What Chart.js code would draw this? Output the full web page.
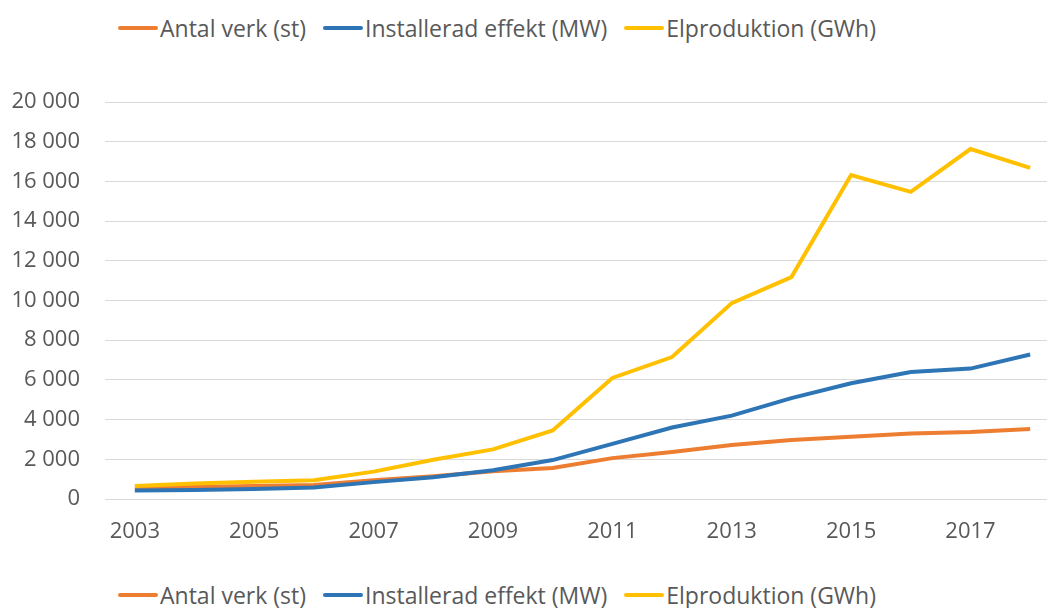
<!DOCTYPE html>
<html>
<head>
<meta charset="utf-8">
<script src="https://cdn.jsdelivr.net/npm/chart.js@4"></script>
<style>
  html, body { margin: 0; padding: 0; background: #fff; overflow: hidden; }
  #wrap { position: relative; width: 1047px; height: 608px; overflow: hidden; }
  #chart { position: absolute; left: 0; top: 0; }
  .legend { position: absolute; left: 118px; display: flex; align-items: center;
            font-family: "Open Sans", sans-serif; font-size: 23px; color: #595959; white-space: nowrap; }
  .legend .item { display: flex; align-items: center; margin-right: 17px; }
  .legend .sw { width: 40px; height: 4px; border-radius: 2px; margin-right: 2px; }
</style>
</head>
<body>
<div id="wrap">
  <div class="legend" id="legendTop" style="top:12px"></div>
  <canvas id="chart" width="1060" height="560"></canvas>
  <div class="legend" id="legendBottom" style="top:579px"></div>
</div>
<script>
const years = ['2003','2004','2005','2006','2007','2008','2009','2010','2011','2012','2013','2014','2015','2016','2017','2018'];
const seriesNames = ['Antal verk (st)', 'Installerad effekt (MW)', 'Elproduktion (GWh)'];
const antalVerk = [550, 600, 650, 700, 950, 1150, 1400, 1560, 2060, 2370, 2720, 2970, 3130, 3300, 3380, 3530];
const installeradEffekt = [430, 450, 500, 580, 850, 1100, 1450, 1960, 2780, 3600, 4200, 5080, 5830, 6400, 6570, 7280];
const elproduktion = [650, 780, 870, 950, 1380, 1980, 2500, 3450, 6100, 7150, 9870, 11180, 16320, 15470, 17630, 16680];
const colors = ['#ED7D31', '#2E75B6', '#FFC000'];

const seriesValues = [antalVerk, installeradEffekt, elproduktion];

// legends (top and bottom are the same)
['legendTop', 'legendBottom'].forEach(id => {
  const box = document.getElementById(id);
  seriesNames.forEach((name, i) => {
    const item = document.createElement('div');
    item.className = 'item';
    const sw = document.createElement('span');
    sw.className = 'sw';
    sw.style.background = colors[i];
    const txt = document.createElement('span');
    txt.textContent = name;
    item.appendChild(sw);
    item.appendChild(txt);
    box.appendChild(item);
  });
});

const ctx = document.getElementById('chart').getContext('2d');

new Chart(ctx, {
  type: 'line',
  data: {
    labels: years,
    datasets: seriesNames.map((name, i) => ({
      label: name,
      data: seriesValues[i],
      borderColor: colors[i],
      backgroundColor: colors[i],
      borderWidth: 4,
      pointRadius: 0,
      tension: 0,
      order: 3 - i
    }))
  },
  options: {
    responsive: false,
    animation: false,
    layout: { padding: { top: 102, left: 0, right: 0, bottom: 0 } },
    plugins: { legend: { display: false }, tooltip: { enabled: false } },
    scales: {
      x: {
        offset: true,
        grid: { display: false },
        border: { display: false },
        ticks: {
          autoSkip: false,
          maxRotation: 0,
          padding: 12,
          color: '#595959',
          font: { family: 'Open Sans', size: 22 },
          callback: function (v, i) { return i % 2 === 0 ? this.getLabelForValue(v) : ''; }
        },
        afterFit: s => { s.height = 61; }
      },
      y: {
        min: 0,
        max: 20000,
        grid: { color: '#d9d9d9', lineWidth: 1, drawTicks: false },
        border: { display: false },
        ticks: {
          stepSize: 2000,
          padding: 25,
          color: '#595959',
          font: { family: 'Open Sans', size: 22 },
          callback: v => String(v).replace(/\B(?=(\d{3})+(?!\d))/g, ' ')
        },
        afterFit: s => { s.width = 105; }
      }
    }
  }
});
</script>
</body>
</html>
